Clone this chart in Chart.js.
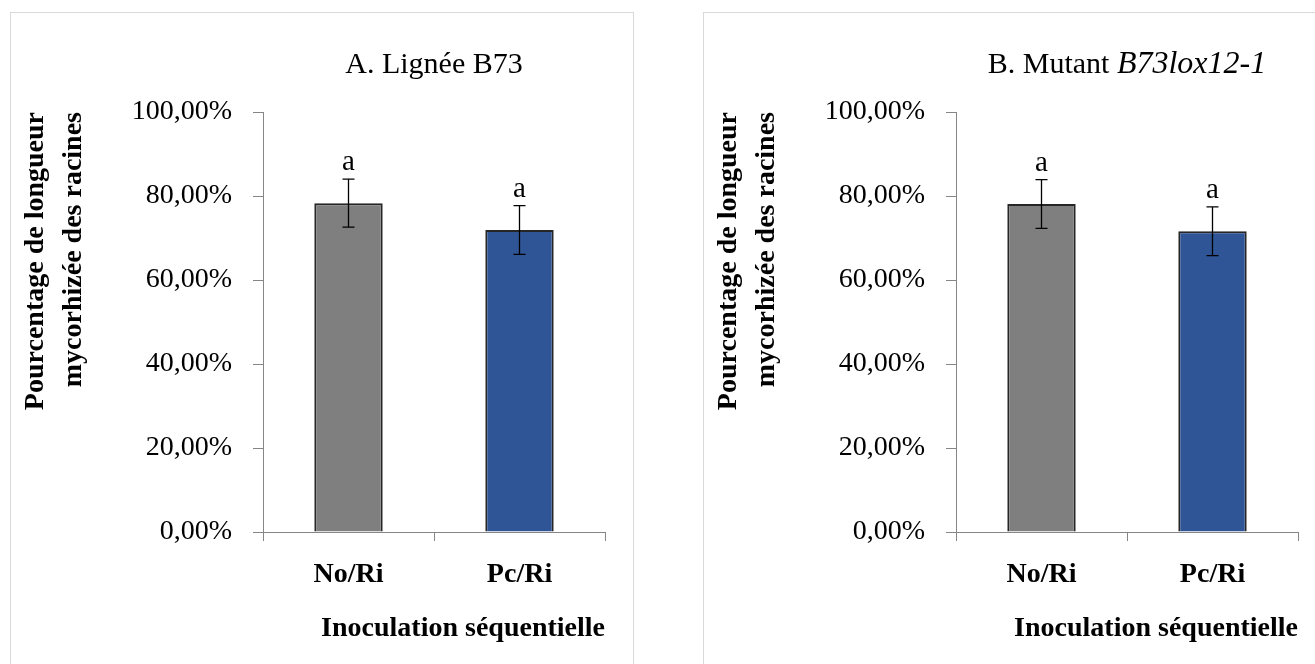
<!DOCTYPE html>
<html>
<head>
<meta charset="utf-8">
<script src="https://cdn.jsdelivr.net/npm/chart.js@4"></script>
<style>
  body { margin: 0; background: #fff; }
  .panneau { position: absolute; top: 12px; width: 622px; height: 680px; border: 1px solid #d9d9d9; background: #fff; }
  #pA { left: 10px; }
  #pB { left: 703px; }
  canvas { display: block; }
</style>
</head>
<body>
<div class="panneau" id="pA"><canvas id="graphA" width="622" height="651"></canvas></div>
<div class="panneau" id="pB"><canvas id="graphB" width="622" height="651"></canvas></div>
<script>
const CATEGORIES = ["No/Ri", "Pc/Ri"];
const MOYENNES_A = [78.3, 71.9];
const ERREURS_A = [5.7, 5.8];
const MOYENNES_B = [78.1, 71.6];
const ERREURS_B = [5.8, 5.8];
const LETTRES = ["a", "a"];
const GRADUATIONS = [0, 20, 40, 60, 80, 100];
const COULEURS = ["#7f7f7f", "#2f5597"];

Chart.defaults.font.family = "'Liberation Serif', serif";
Chart.defaults.color = "#000";

// barres d'erreur + lettres
const barresErreur = {
    id: "barresErreur",
    afterDatasetsDraw(chart, args, opts) {
        const ctx = chart.ctx;
        const y = chart.scales.y;
        const meta = chart.getDatasetMeta(0);
        const vals = chart.data.datasets[0].data;
        ctx.save();
        ctx.strokeStyle = "#000";
        ctx.lineWidth = 1.3;
        meta.data.forEach((bar, i) => {
            const haut = y.getPixelForValue(vals[i] + opts.erreurs[i]);
            const bas = y.getPixelForValue(vals[i] - opts.erreurs[i]);
            ctx.beginPath();
            ctx.moveTo(bar.x, haut); ctx.lineTo(bar.x, bas);
            ctx.moveTo(bar.x - 6, haut); ctx.lineTo(bar.x + 6, haut);
            ctx.moveTo(bar.x - 6, bas); ctx.lineTo(bar.x + 6, bas);
            ctx.stroke();
            ctx.fillStyle = "#000";
            ctx.font = "29px 'Liberation Serif'";
            ctx.textAlign = "center";
            ctx.textBaseline = "alphabetic";
            ctx.fillText(opts.lettres[i], bar.x, haut - 9);
        });
        ctx.restore();
    }
};

// titre en deux parties (normal + italique)
const titreMixte = {
    id: "titreMixte",
    afterDraw(chart, args, opts) {
        const ctx = chart.ctx;
        const a = chart.chartArea;
        ctx.save();
        ctx.fillStyle = "#000";
        ctx.textBaseline = "alphabetic";
        ctx.textAlign = "left";
        const police = m => (m.italique ? "italic 32px" : "30px") + " 'Liberation Serif'";
        let larg = 0;
        opts.morceaux.forEach(m => {
            ctx.font = police(m);
            larg += ctx.measureText(m.texte).width;
        });
        let x = (a.left + a.right) / 2 - larg / 2;
        opts.morceaux.forEach(m => {
            ctx.font = police(m);
            ctx.fillText(m.texte, x, 60);
            x += ctx.measureText(m.texte).width;
        });
        ctx.restore();
    }
};

function graphique(id, moyennes, erreurs, morceaux) {
    return new Chart(document.getElementById(id), {
        type: "bar",
        data: {
            labels: CATEGORIES,
            datasets: [{
                data: moyennes,
                backgroundColor: COULEURS,
                borderColor: "#262626",
                borderWidth: 2,
                barPercentage: 0.4,
                categoryPercentage: 1
            }]
        },
        options: {
            responsive: false,
            animation: false,
            layout: { padding: { top: 99, right: 28, left: 0, bottom: 0 } },
            plugins: {
                legend: { display: false },
                tooltip: { enabled: false },
                barresErreur: { erreurs: erreurs, lettres: LETTRES },
                titreMixte: { morceaux: morceaux }
            },
            scales: {
                x: {
                    grid: { drawOnChartArea: false, tickLength: 9, color: "#868686" },
                    border: { color: "#868686" },
                    ticks: { font: { size: 28, weight: "bold" }, padding: 17 },
                    title: {
                        display: true,
                        text: "Inoculation séquentielle",
                        align: "end",
                        font: { size: 28, weight: "bold" },
                        padding: { top: 0, bottom: 18 }
                    },
                    afterFit(s) { s.height = 132; }
                },
                y: {
                    min: 0,
                    max: 100,
                    afterBuildTicks(s) { s.ticks = GRADUATIONS.map(v => ({ value: v })); },
                    grid: { drawOnChartArea: false, tickLength: 10, color: "#868686" },
                    border: { color: "#868686" },
                    ticks: {
                        font: { size: 28 },
                        padding: 21,
                        callback: v => v.toFixed(2).replace(".", ",") + "%"
                    },
                    title: {
                        display: true,
                        text: ["Pourcentage de longueur", "mycorhizée des racines"],
                        align: "end",
                        font: { size: 28, weight: "bold", lineHeight: 1.36 },
                        padding: { top: 6, bottom: 0 }
                    },
                    afterFit(s) { s.width = 252; }
                }
            }
        },
        plugins: [barresErreur, titreMixte]
    });
}

graphique("graphA", MOYENNES_A, ERREURS_A, [{ texte: "A. Lignée B73", italique: false }]);
graphique("graphB", MOYENNES_B, ERREURS_B, [
    { texte: "B. Mutant ", italique: false },
    { texte: "B73lox12-1", italique: true }
]);
</script>
</body>
</html>
